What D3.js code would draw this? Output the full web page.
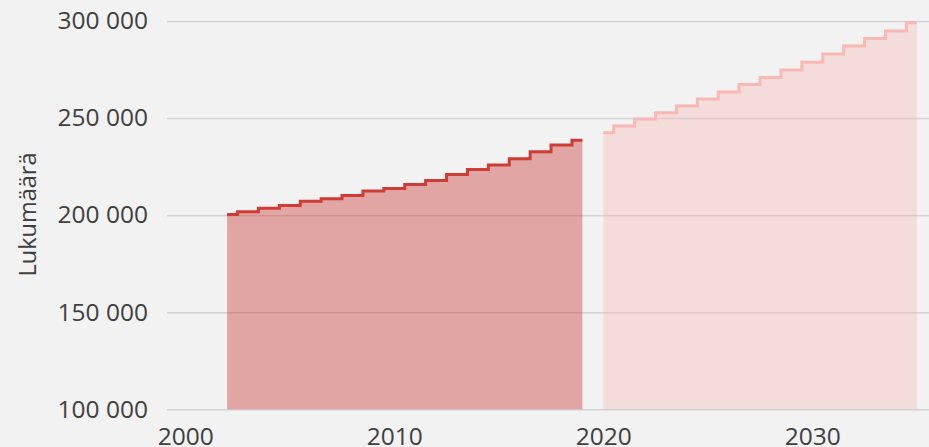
<!DOCTYPE html>
<html>
<head>
<meta charset="utf-8">
<script src="https://cdn.jsdelivr.net/npm/d3@7"></script>
<style>
  html, body { margin: 0; padding: 0; background: #f2f2f2; }
  svg { display: block; }
  text { font-family: "Open Sans", sans-serif; fill: #404040; }
</style>
</head>
<body>
<svg id="chart" width="929" height="447"></svg>
<script>
width = 929;
height = 447;

// data
histYears = [2002, 2003, 2004, 2005, 2006, 2007, 2008, 2009, 2010, 2011, 2012, 2013, 2014, 2015, 2016, 2017, 2018, 2019];
histValues = [200300, 201700, 203600, 205000, 207200, 208400, 210100, 212400, 213700, 215800, 217900, 220900, 223500, 225800, 229000, 232600, 236100, 238600];
futureYears = [2020, 2021, 2022, 2023, 2024, 2025, 2026, 2027, 2028, 2029, 2030, 2031, 2032, 2033, 2034, 2035];
futureValues = [242400, 245900, 249500, 252700, 256200, 259800, 263400, 267300, 270900, 274700, 278800, 283000, 287100, 291000, 294800, 299100];
yTicks = [100000, 150000, 200000, 250000, 300000];
xTicks = [2000, 2010, 2020, 2030];
yTitle = 'Lukumäärä';

gridLeft = 167;
x = d3.scaleLinear().domain([2000, 2035]).range([185.3, 916.8]);
y = d3.scaleLinear().domain([100000, 300000]).range([409.3, 21]);

svg = d3.select('#chart');

fmt = v => d3.format(',')(v).replace(/,/g, ' ');

// gridlines + y labels
yAxis = svg.append('g')
	.attr('transform', `translate(${gridLeft},0)`)
	.call(d3.axisLeft(y).tickValues(yTicks).tickSize(-(width - gridLeft)).tickPadding(19).tickFormat(fmt));
yAxis.select('.domain').remove();
yAxis.selectAll('line').attr('stroke', '#d3d3d3').attr('stroke-width', 1.5);
yAxis.selectAll('text')
	.attr('font-size', '24.5px')
	.attr('font-family', '"Open Sans", sans-serif')
	.attr('fill', '#404040');

// x labels
xAxis = svg.append('g')
	.attr('transform', `translate(0,${y(100000)})`)
	.call(d3.axisBottom(x).tickValues(xTicks).tickSize(0).tickPadding(18.6).tickFormat(d3.format('d')));
xAxis.select('.domain').remove();
xAxis.selectAll('text')
	.attr('font-size', '24.5px')
	.attr('font-family', '"Open Sans", sans-serif')
	.attr('fill', '#404040');

// y title
svg.append('text')
	.attr('transform', `translate(36,214.5) rotate(-90)`)
	.attr('text-anchor', 'middle')
	.attr('font-size', '23.5px')
	.text(yTitle);

function drawSeries(years, values, fill, fillOpacity, stroke){
	let pts = years.map((d, i) => [d, values[i]]);
	let area = d3.area()
		.curve(d3.curveStep)
		.x(d => x(d[0]))
		.y0(y(100000))
		.y1(d => y(d[1]));
	let line = d3.line()
		.curve(d3.curveStep)
		.x(d => x(d[0]))
		.y(d => y(d[1]));
	svg.append('path')
		.attr('d', area(pts))
		.attr('fill', fill)
		.attr('fill-opacity', fillOpacity);
	svg.append('path')
		.attr('d', line(pts))
		.attr('fill', 'none')
		.attr('stroke', stroke)
		.attr('stroke-width', 3);
}

drawSeries(histYears, histValues, 'rgb(200,50,45)', 0.4, '#cf3c35');
drawSeries(futureYears, futureValues, 'rgb(250,180,178)', 0.35, '#f8b8b3');
</script>
</body>
</html>
